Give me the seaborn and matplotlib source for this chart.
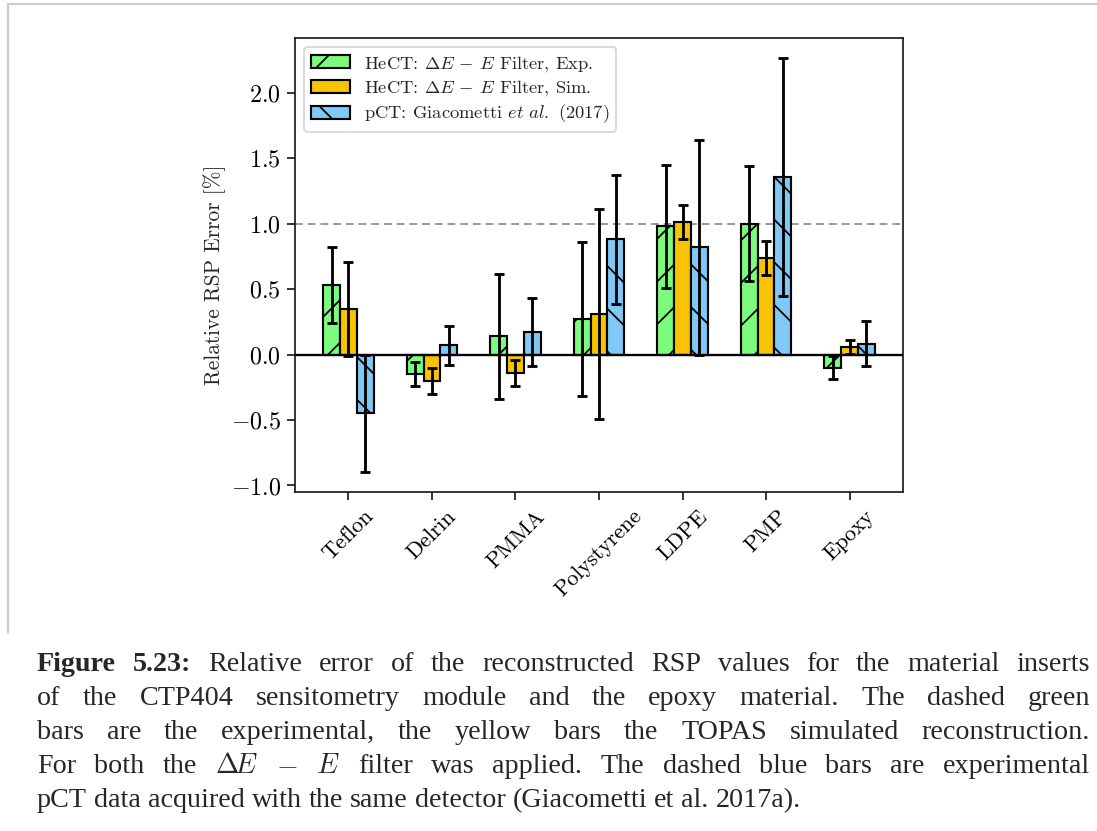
import matplotlib
matplotlib.use("Agg")
import matplotlib.pyplot as plt
import seaborn as sns
import pandas as pd
from matplotlib.lines import Line2D

# ---------------- data ----------------
materials = ["Teflon", "Delrin", "PMMA", "Polystyrene", "LDPE", "PMP", "Epoxy"]
series_keys = ["exp", "sim", "pct"]
series_labels = [r"HeCT: $\Delta E\,-\,E$ Filter, Exp.",
                 r"HeCT: $\Delta E\,-\,E$ Filter, Sim.",
                 r"pCT: Giacometti $\mathit{et\ al.}$ (2017)"]
exp_vals = [0.53, -0.15, 0.14, 0.27, 0.98, 1.00, -0.10]
exp_errs = [0.29, 0.09, 0.48, 0.59, 0.47, 0.44, 0.09]
sim_vals = [0.35, -0.20, -0.14, 0.31, 1.01, 0.74, 0.06]
sim_errs = [0.36, 0.10, 0.10, 0.80, 0.13, 0.13, 0.055]
pct_vals = [-0.45, 0.07, 0.17, 0.88, 0.82, 1.36, 0.085]
pct_errs = [0.45, 0.15, 0.26, 0.49, 0.82, 0.91, 0.175]
yticks = [-1.0, -0.5, 0.0, 0.5, 1.0, 1.5, 2.0]

colors = {"exp": "#7CFC7C", "sim": "#F8C300", "pct": "#80C8F5"}
hatches = {"exp": "/", "sim": "", "pct": "\\"}

caption_lines = [
    [("Figure 5.23:", "bold"), "Relative error of the reconstructed RSP values for the material inserts"],
    "of the CTP404 sensitometry module and the epoxy material.  The dashed green",
    "bars are the experimental, the yellow bars the TOPAS simulated reconstruction.",
    "For both the $\\Delta\\!E$ $-$ $E$ filter was applied.  The dashed blue bars are experimental",
    "pCT data acquired with the same detector (Giacometti et al. 2017a).",
]

# ---------------- style ----------------
sns.set_style("ticks")
plt.rcParams.update({
    "font.family": "serif",
    "font.serif": ["cmr10"],
    "mathtext.fontset": "cm",
    "axes.formatter.use_mathtext": True,
    "axes.unicode_minus": True,
    "hatch.linewidth": 1.0,
    "axes.linewidth": 1.0,
    "axes.edgecolor": "#222222",
    "xtick.color": "#222222",
    "ytick.color": "#222222",
    "xtick.labelcolor": "black",
    "ytick.labelcolor": "black",
})

W, H, DPI = 1097, 831, 128
fig = plt.figure(figsize=(W / DPI, H / DPI), dpi=DPI, facecolor="white")
ax = fig.add_axes([295 / W, 1 - 492 / H, (903 - 295) / W, (492 - 38) / H])

rows = []
for key, vals in zip(series_keys, [exp_vals, sim_vals, pct_vals]):
    for m, v in zip(materials, vals):
        rows.append({"material": m, "series": key, "value": v})
df = pd.DataFrame(rows)

sns.barplot(data=df, x="material", y="value", hue="series", order=materials,
            hue_order=series_keys, palette=colors, saturation=1, width=0.6,
            errorbar=None, edgecolor="black", linewidth=1.2, dodge=True, ax=ax,
            zorder=2)

errs = {"exp": exp_errs, "sim": sim_errs, "pct": pct_errs}
vals_map = {"exp": exp_vals, "sim": sim_vals, "pct": pct_vals}
handles = []
for key, cont in zip(series_keys, ax.containers):
    xs = []
    for p in cont.patches:
        p.set_hatch(hatches[key])
        xs.append(p.get_x() + p.get_width() / 2)
    ax.errorbar(xs, vals_map[key], yerr=errs[key], fmt="none", ecolor="black",
                elinewidth=1.6, capsize=2.8, capthick=1.6, zorder=4)
    handles.append(cont.patches[0])

ax.axhline(0, color="black", lw=1.3, zorder=3)
ax.axhline(1, color="#999999", lw=1.1, ls=(0, (4, 2.5)), zorder=0.5)

ax.set_xlim(-0.64, 6.64)
ax.set_ylim(-1.05, 2.42)
ax.set_yticks(yticks)
ax.set_xlabel("")
ax.set_ylabel("Relative RSP Error [%]", fontsize=12, labelpad=2.5)
ax.yaxis.label.set_y(0.478)
ax.tick_params(axis="y", labelsize=13.5, length=4.5, width=1.0)
ax.tick_params(axis="x", labelsize=12.5, length=4.5, width=1.0)
plt.setp(ax.get_xticklabels(), rotation=45, ha="center")

leg = ax.legend(handles=handles, labels=series_labels, loc="upper left",
                fontsize=10.4, framealpha=0.8, edgecolor="#cccccc", fancybox=True,
                handlelength=2.1, labelspacing=0.25, borderpad=0.35)

# light page frame
fig.add_artist(Line2D([8 / W, 8 / W], [1 - 4 / H, 1 - 633 / H], color="#cccccc", lw=1.2))
fig.add_artist(Line2D([8 / W, 1.0], [1 - 4 / H, 1 - 4 / H], color="#cccccc", lw=1.2))

# ---------------- caption (justified) ----------------
cap_font = "Liberation Serif"
cap_fs = 15.8
fig.canvas.draw()
r = fig.canvas.get_renderer()
t1 = fig.text(0, 0, "a a", fontsize=cap_fs, family=cap_font)
t2 = fig.text(0, 0, "aa", fontsize=cap_fs, family=cap_font)
sp = t1.get_window_extent(r).width - t2.get_window_extent(r).width
t1.remove()
t2.remove()
x0, x1 = 37, 1090
base0, dy = 671, 34
for li, line in enumerate(caption_lines):
    words = []
    parts = line if isinstance(line, list) else [line]
    for part in parts:
        if isinstance(part, tuple):
            words += [(w, part[1]) for w in part[0].split()]
        else:
            words += [(w, "normal") for w in part.split()]
    yb = base0 + li * dy
    texts = [fig.text(0, 1 - yb / H, w, fontsize=cap_fs, family=cap_font,
                      weight=wt, va="baseline", ha="left") for w, wt in words]
    widths = [t.get_window_extent(r).width for t in texts]
    last = li == len(caption_lines) - 1
    gap = sp if last else (x1 - x0 - sum(widths)) / (len(words) - 1)
    x = x0
    for t, w in zip(texts, widths):
        t.set_x(x / W)
        x += w + gap

fig.savefig("out.png", dpi=DPI, facecolor="white")
